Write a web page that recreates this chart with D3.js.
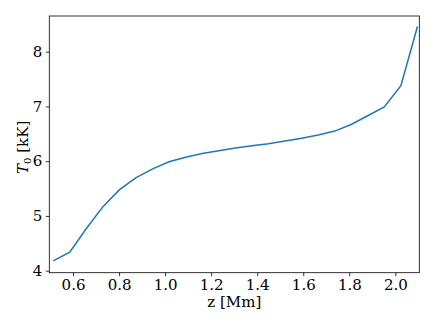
<!DOCTYPE html>
<html>
<head>
<meta charset="utf-8">
<script src="https://cdn.jsdelivr.net/npm/d3@7"></script>
<style>
  body { margin: 0; background: #fff; }
  svg { display: block; }
  .tick text { font-family: "DejaVu Serif", "Liberation Serif", serif; font-size: 15px; fill: #000; }
  .axis-label { font-family: "DejaVu Serif", "Liberation Serif", serif; font-size: 15px; fill: #000; }
  .line { fill: none; stroke: #1f77b4; stroke-width: 1.5; }
</style>
</head>
<body>
<script>
// height z [Mm] and temperature T0 [kK]
const zValues = [0.514, 0.586, 0.658, 0.730, 0.802, 0.874, 0.946, 1.017, 1.089, 1.161, 1.233, 1.305,
                 1.377, 1.449, 1.521, 1.593, 1.665, 1.737, 1.808, 1.880, 1.952, 2.024, 2.096];
const tValues = [4.18, 4.34, 4.77, 5.17, 5.48, 5.70, 5.86, 5.99, 6.07, 6.14, 6.19, 6.24,
                 6.28, 6.32, 6.37, 6.42, 6.48, 6.55, 6.67, 6.83, 6.99, 7.38, 8.46];
const xTicks = [0.6, 0.8, 1.0, 1.2, 1.4, 1.6, 1.8, 2.0];
const yTicks = [4, 5, 6, 7, 8];

const W = 436, H = 327;
const margin = {top: 16, right: 16.7, bottom: 54.3, left: 49.3}
  , width = W - margin.left - margin.right
  , height = H - margin.top - margin.bottom;

const data = zValues.map((z, i) => ({z: z, t: tValues[i]}));

const xScale = d3.scaleLinear().domain([0.497, 2.104]).range([0, width]);
const yScale = d3.scaleLinear().domain([3.963, 8.652]).range([height, 0]);

const svg = d3.select("body").append("svg")
  .attr("width", W)
  .attr("height", H)
  .append("g")
  .attr("transform", "translate(" + margin.left + "," + margin.top + ")");

const line = d3.line()
  .x(d => xScale(d.z))
  .y(d => yScale(d.t));

svg.append("path")
  .datum(data)
  .attr("class", "line")
  .attr("d", line);

// axes, matplotlib look
const xAxis = d3.axisBottom(xScale).tickValues(xTicks).tickFormat(d3.format(".1f"))
  .tickSize(3.5).tickPadding(3.5);
const yAxis = d3.axisLeft(yScale).tickValues(yTicks).tickFormat(d3.format("d"))
  .tickSize(3.5).tickPadding(3.5);

const gX = svg.append("g")
  .attr("transform", "translate(0," + height + ")")
  .call(xAxis);
const gY = svg.append("g").call(yAxis);

[gX, gY].forEach(g => {
  g.select(".domain").remove();
  g.selectAll(".tick line").attr("stroke", "#000").attr("stroke-width", 0.8);
});

// frame
svg.append("rect")
  .attr("x", 0).attr("y", 0)
  .attr("width", width).attr("height", height)
  .attr("fill", "none")
  .attr("stroke", "#000")
  .attr("stroke-width", 0.8);

svg.append("text")
  .attr("class", "axis-label")
  .attr("x", width / 2)
  .attr("y", height + 34)
  .attr("text-anchor", "middle")
  .text("z [Mm]");

const yl = svg.append("text")
  .attr("class", "axis-label")
  .attr("transform", "translate(" + (-21) + "," + (height / 2 + 3) + ") rotate(-90)")
  .attr("text-anchor", "middle");
yl.append("tspan").attr("font-style", "italic").text("T");
yl.append("tspan").attr("font-size", "10px").attr("dy", 3).text("0");
yl.append("tspan").attr("dy", -3).text(" [kK]");
</script>
</body>
</html>
